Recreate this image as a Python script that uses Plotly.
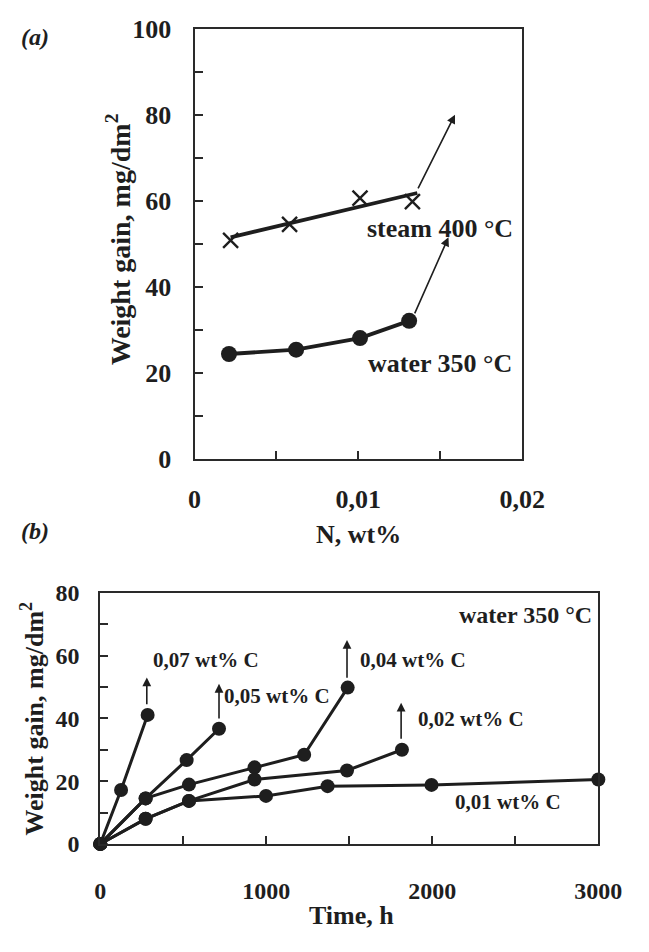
import plotly.graph_objects as go

# ---------------- Panel (a) data ----------------
n_steam = [0.0022, 0.0058, 0.0101, 0.0133]
wg_steam = [50.8, 54.5, 60.6, 59.8]
steam_fit_n = [0.0022, 0.0136]
steam_fit_wg = [51.5, 61.8]
n_water = [0.0021, 0.0062, 0.0101, 0.0131]
wg_water = [24.4, 25.4, 28.1, 32.1]
# arrows (tail_x, tail_y, head_x, head_y)
arrows_a = [(0.0136, 62.5, 0.0159, 80.0), (0.0134, 33.5, 0.0155, 51.5)]
labels_a = [("steam 400 °C", 0.0150, 53.6), ("water 350 °C", 0.0150, 22.3)]
a_xtick_vals = [0, 0.01, 0.02]
a_xtick_text = ["0", "0,01", "0,02"]
a_ytick_vals = [0, 20, 40, 60, 80, 100]

# ---------------- Panel (b) data ----------------
t_c007 = [0, 125, 285]
wg_c007 = [0, 17.2, 41.1]
t_c005 = [0, 273, 520, 715]
wg_c005 = [0, 14.5, 26.7, 36.7]
t_c004 = [0, 273, 534, 929, 1228, 1490]
wg_c004 = [0, 14.5, 18.9, 24.4, 28.4, 49.8]
t_c002 = [0, 273, 534, 929, 1486, 1817]
wg_c002 = [0, 8.0, 13.7, 20.5, 23.4, 30.0]
t_c001 = [0, 273, 534, 998, 1369, 1995, 3000]
wg_c001 = [0, 8.0, 13.7, 15.3, 18.4, 18.8, 20.5]
arrows_b = [(280, 44.0, 280, 53.0), (715, 39.5, 715, 51.0),
            (1486, 52.5, 1486, 65.0), (1812, 33.0, 1812, 45.0)]
labels_b = [("0,07 wt% C", 305, 58.5), ("0,05 wt% C", 735, 47.2),
            ("0,04 wt% C", 1550, 58.5), ("0,02 wt% C", 1900, 39.8),
            ("0,01 wt% C", 2125, 13.5)]
b_title_label = ("water 350 °C", 2975, 72.8)
b_xtick_vals = [0, 1000, 2000, 3000]
b_ytick_vals = [0, 20, 40, 60, 80]

INK = "#1e1e1e"
FONT = "Liberation Serif, Times New Roman, serif"
W, H = 649, 952

fig = go.Figure()

# Panel a traces
fig.add_trace(go.Scatter(x=steam_fit_n, y=steam_fit_wg, mode="lines",
                         line=dict(color=INK, width=3.8), xaxis="x", yaxis="y",
                         showlegend=False, hoverinfo="skip"))
fig.add_trace(go.Scatter(x=n_steam, y=wg_steam, mode="markers",
                         marker=dict(symbol="x-thin", size=15, line=dict(color=INK, width=2.4)),
                         xaxis="x", yaxis="y", showlegend=False, cliponaxis=False))
fig.add_trace(go.Scatter(x=n_water, y=wg_water, mode="lines+markers",
                         line=dict(color=INK, width=3.8),
                         marker=dict(symbol="circle", size=16, color=INK),
                         xaxis="x", yaxis="y", showlegend=False, cliponaxis=False))

# Panel b traces
for tt, ww in [(t_c007, wg_c007), (t_c005, wg_c005), (t_c004, wg_c004),
               (t_c002, wg_c002), (t_c001, wg_c001)]:
    fig.add_trace(go.Scatter(x=tt, y=ww, mode="lines+markers",
                             line=dict(color=INK, width=3),
                             marker=dict(symbol="circle", size=14, color=INK),
                             xaxis="x2", yaxis="y2", showlegend=False, cliponaxis=False))

ann = []
for (tx, ty, hx, hy) in arrows_a:
    ann.append(dict(x=hx, y=hy, ax=tx, ay=ty, xref="x", yref="y", axref="x", ayref="y",
                    text="", showarrow=True, arrowhead=2, arrowsize=1.1, arrowwidth=1.6,
                    arrowcolor=INK))
for (tx, ty, hx, hy) in arrows_b:
    ann.append(dict(x=hx, y=hy, ax=tx, ay=ty, xref="x2", yref="y2", axref="x2", ayref="y2",
                    text="", showarrow=True, arrowhead=2, arrowsize=1.1, arrowwidth=1.6,
                    arrowcolor=INK))
for (txt, lx, ly) in labels_a:
    ann.append(dict(x=lx, y=ly, xref="x", yref="y", text=txt, showarrow=False,
                    xanchor="center", yanchor="middle",
                    font=dict(family=FONT, size=26, color=INK, weight="bold")))
for (txt, lx, ly) in labels_b:
    ann.append(dict(x=lx, y=ly, xref="x2", yref="y2", text=txt, showarrow=False,
                    xanchor="left", yanchor="middle",
                    font=dict(family=FONT, size=21, color=INK, weight="bold")))
ann.append(dict(x=b_title_label[1], y=b_title_label[2], xref="x2", yref="y2",
                text=b_title_label[0], showarrow=False, xanchor="right", yanchor="middle",
                font=dict(family=FONT, size=24, color=INK, weight="bold")))

# Axis titles and panel letters
small_title = dict(family=FONT, size=24, color=INK, weight="bold")
ann += [
    dict(x=118 / W, y=1 - 232 / H, xref="paper", yref="paper", textangle=-90,
         xanchor="center", yanchor="middle",
         text="Weight gain, mg/dm<sup>2</sup>", showarrow=False,
         font=dict(family=FONT, size=28, color=INK, weight="bold")),
    dict(x=369 / W, y=1 - 537 / H, xref="paper", yref="paper",
         xanchor="center", yanchor="middle",
         text="N, wt%", showarrow=False,
         font=dict(family=FONT, size=26, color=INK, weight="bold")),
    dict(x=27 / W, y=1 - 727 / H, xref="paper", yref="paper", textangle=-90,
         xanchor="center", yanchor="middle",
         text="Weight gain, mg/dm<sup>2</sup>", showarrow=False,
         font=dict(family=FONT, size=26, color=INK, weight="bold")),
    dict(x=362 / W, y=1 - 930 / H, xref="paper", yref="paper",
         xanchor="center", yanchor="middle",
         text="Time, h", showarrow=False,
         font=dict(family=FONT, size=26, color=INK, weight="bold")),
    dict(x=29 / W, y=1 - 24 / H, xref="paper", yref="paper",
         xanchor="center", yanchor="middle",
         text="<i>(a)</i>", showarrow=False, font=small_title),
    dict(x=29 / W, y=1 - 533 / H, xref="paper", yref="paper",
         xanchor="center", yanchor="middle",
         text="<i>(b)</i>", showarrow=False, font=small_title),
]

axis_common = dict(showline=True, linecolor="#2a2a2a", linewidth=2.2, mirror=True,
                   showgrid=False, zeroline=False, ticks="inside", ticklen=8,
                   tickwidth=2, tickcolor="#2a2a2a")
minor_style = dict(ticks="inside", ticklen=8, tickwidth=2, tickcolor="#2a2a2a")

fig.update_layout(
    width=W, height=H, margin=dict(l=0, r=0, t=0, b=0),
    paper_bgcolor="white", plot_bgcolor="white", showlegend=False,
    font=dict(family=FONT, color=INK),
    xaxis=dict(domain=[197 / W, 541 / W], anchor="y", range=[0, 0.02],
               tickvals=a_xtick_vals, ticktext=a_xtick_text,
               minor=dict(dtick=0.005, **minor_style),
               tickfont=dict(family=FONT, size=26, color=INK, weight="bold"),
               ticklabelstandoff=16, **axis_common),
    yaxis=dict(domain=[1 - 459 / H, 1 - 15 / H], anchor="x", range=[0, 100],
               tickvals=a_ytick_vals,
               minor=dict(dtick=10, **minor_style),
               tickfont=dict(family=FONT, size=26, color=INK, weight="bold"),
               ticklabelstandoff=16, **axis_common),
    xaxis2=dict(domain=[98 / W, 621 / W], anchor="y2", range=[0, 3000],
                tickvals=b_xtick_vals,
                minor=dict(dtick=500, **minor_style),
                tickfont=dict(family=FONT, size=24, color=INK, weight="bold"),
                ticklabelstandoff=24, **axis_common),
    yaxis2=dict(domain=[1 - 856 / H, 1 - 597 / H], anchor="x2", range=[0, 80],
                tickvals=b_ytick_vals,
                minor=dict(dtick=10, **minor_style),
                tickfont=dict(family=FONT, size=24, color=INK, weight="bold"),
                ticklabelstandoff=14, **axis_common),
    annotations=ann,
)

fig.write_html("out.html")
